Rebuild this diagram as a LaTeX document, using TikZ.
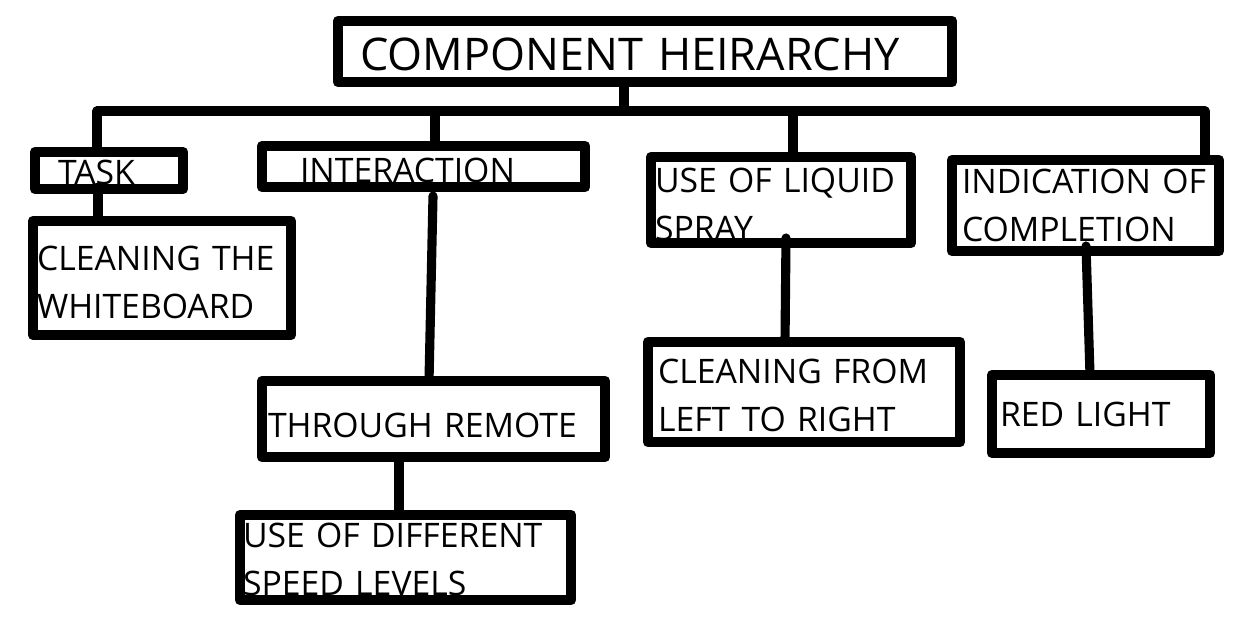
\documentclass[tikz,border=0pt]{standalone}
\usepackage{fontspec}
\setmainfont{Open Sans}
\usepackage{tikz}
\usetikzlibrary{positioning,calc}

\begin{document}
\begin{tikzpicture}[x=0.025cm, y=-0.025cm,
  caixa/.style={draw, line width=7.5pt, line join=round, rectangle, anchor=north west,
    outer sep=0pt, align=left, inner ysep=0pt, font=\fontsize{24}{34}\selectfont},
  titulo/.style={caixa, font=\fontsize{32}{38}\selectfont},
  desce/.style={execute at begin node={\rule{0pt}{#1}}},
  liga/.style={line width=6.5pt, line cap=round}]

\useasboundingbox (0,0) rectangle (1240,626);

% ================= titulo =================
\node[titulo, desce=27.7pt, minimum width=15.35cm, minimum height=1.525cm, inner xsep=0.55cm, text width=14.25cm]
  (comp) at (338,21) {COMPONENT~HEIRARCHY};

% ================= primeiro nivel =================
\node[caixa, desce=20.3pt, minimum width=3.7cm, minimum height=0.925cm, inner xsep=0.575cm, text width=2.55cm]
  (task) at (35,152) {TASK};
\node[caixa, desce=23.2pt, minimum width=8.075cm, minimum height=1.025cm, inner xsep=0.95cm, text width=6.175cm]
  (inter) at (262,146) {INTERACTION};
\node[caixa, desce=23.2pt, minimum width=6.5cm, minimum height=2.15cm, inner xsep=0.1cm, text width=6.3cm]
  (spray) at (651,157) {USE~OF~LIQUID\\SPRAY};
\node[caixa, minimum width=6.675cm, minimum height=2.275cm, inner xsep=0.25cm, text width=6.175cm]
  (indic) at (952,160) {INDICATION~OF\\COMPLETION};

% ================= segundo nivel =================
\node[caixa, desce=23.2pt, minimum width=6.45cm, minimum height=2.85cm, inner xsep=0.1cm, text width=6.25cm]
  (board) at (33,221) {CLEANING~THE\\WHITEBOARD};
\node[caixa, desce=26pt, minimum width=8.575cm, minimum height=1.9cm, inner xsep=0.15cm, text width=8.275cm]
  (remote) at (262,381) {THROUGH~REMOTE};
\node[caixa, desce=20.3pt, minimum width=8.275cm, minimum height=2.125cm, inner xsep=0.075cm, text width=8.125cm]
  (speed) at (240,515) {USE~OF~DIFFERENT\\SPEED~LEVELS};
\node[caixa, desce=21.8pt, minimum width=7.8cm, minimum height=2.5cm, inner xsep=0.25cm, text width=7.3cm]
  (leftright) at (648,342) {CLEANING~FROM\\LEFT~TO~RIGHT};
\node[caixa, minimum width=5.45cm, minimum height=1.95cm, inner xsep=0.2cm, text width=5.05cm]
  (redlight) at (992,375) {RED~LIGHT};

% ================= barra horizontal =================
\coordinate (b0) at (624,111);
\coordinate (b1) at (97,111);
\coordinate (b2) at (435,111);
\coordinate (b3) at (793,113);
\coordinate (b4) at (1205,111);
\draw[liga] (b1) -- (b4);
\draw[liga] (b0 |- comp.south) -- (b0);
\draw[liga] (b1) -- (b1 |- task.north);
\draw[liga] (b2) -- (b2 |- inter.north);
\draw[liga] (b3) -- (b3 |- spray.north);
\draw[liga] (b4) -- (b4 |- indic.north);

% ================= ligacoes para baixo =================
\coordinate (p1) at (98,187);
\coordinate (p2) at (433,196);
\coordinate (p3) at (786,238);
\coordinate (p4) at (1086,246);
\draw[liga] (p1) -- (p1 |- board.north);
\draw[liga] (p2) -- (429,0 |- remote.north);
\draw[liga, line cap=butt] (399,0 |- remote.south) -- (399,0 |- speed.north);
\draw[liga] (p3) -- (785,0 |- leftright.north);
\draw[liga] (p4) -- (1090,0 |- redlight.north);

\end{tikzpicture}
\end{document}
